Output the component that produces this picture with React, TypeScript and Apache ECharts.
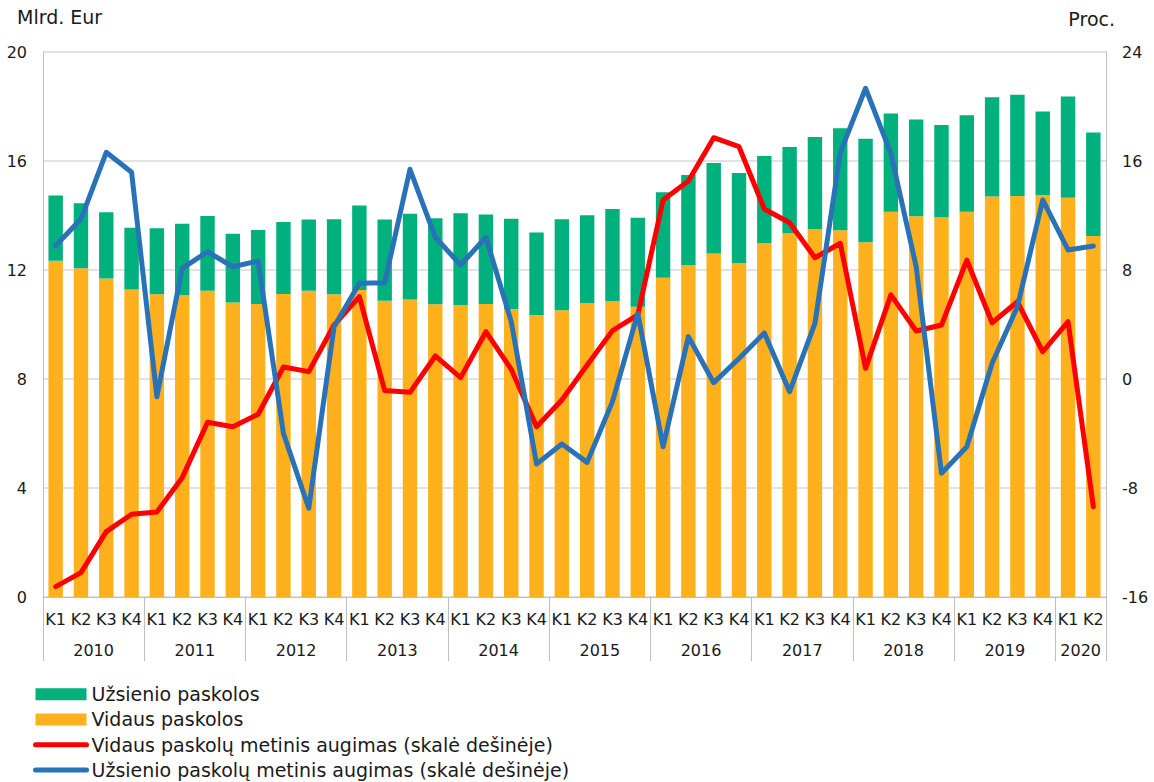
import React, { useEffect, useRef } from "react";
import * as echarts from "echarts";

const years = ["2010", "2011", "2012", "2013", "2014", "2015", "2016", "2017", "2018", "2019", "2020"];
const quarterNames = ["K1", "K2", "K3", "K4"];
const quartersPerYear = [4, 4, 4, 4, 4, 4, 4, 4, 4, 4, 2];

const domesticLoans = [
  12.34, 12.06, 11.69, 11.28, 11.11, 11.08, 11.24, 10.81, 10.75, 11.12, 11.24, 11.11,
  11.27, 10.87, 10.92, 10.74, 10.72, 10.75, 10.57, 10.35, 10.52, 10.79, 10.86, 10.65,
  11.72, 12.17, 12.61, 12.26, 12.98, 13.35, 13.5, 13.46, 13.02, 14.14, 13.97, 13.94,
  14.14, 14.7, 14.72, 14.75, 14.65, 13.25,
];
const foreignLoans = [
  2.39, 2.39, 2.43, 2.27, 2.42, 2.62, 2.74, 2.52, 2.72, 2.64, 2.61, 2.75,
  3.1, 2.98, 3.14, 3.16, 3.36, 3.29, 3.31, 3.03, 3.34, 3.22, 3.38, 3.27,
  3.13, 3.32, 3.32, 3.3, 3.2, 3.16, 3.38, 3.74, 3.8, 3.6, 3.55, 3.38,
  3.54, 3.64, 3.71, 3.07, 3.72, 3.8,
];
const domesticGrowth = [
  -15.24, -14.21, -11.2, -9.93, -9.76, -7.24, -3.18, -3.5, -2.59, 0.88, 0.54, 3.96,
  6.04, -0.85, -0.98, 1.69, 0.1, 3.47, 0.71, -3.5, -1.54, 1.03, 3.55, 4.7,
  13.14, 14.53, 17.71, 17.05, 12.48, 11.47, 8.9, 9.96, 0.78, 6.17, 3.52, 3.96,
  8.73, 4.13, 5.67, 2.0, 4.21, -9.37,
];
const foreignGrowth = [
  9.78, 11.74, 16.64, 15.17, -1.3, 8.12, 9.34, 8.24, 8.66, -3.99, -9.49, 3.84,
  7.02, 7.07, 15.39, 10.4, 8.37, 10.4, 4.21, -6.24, -4.77, -6.12, -1.66, 4.82,
  -4.97, 3.11, -0.27, 1.5, 3.38, -0.93, 4.09, 16.61, 21.34, 16.56, 8.24, -6.92,
  -4.97, 1.15, 5.31, 13.14, 9.47, 9.76,
];

const seriesNames = {
  foreign: "Užsienio paskolos",
  domestic: "Vidaus paskolos",
  domesticGrowth: "Vidaus paskolų metinis augimas (skalė dešinėje)",
  foreignGrowth: "Užsienio paskolų metinis augimas (skalė dešinėje)",
};

const colors = {
  foreign: "#00B17E",
  domestic: "#FFB01D",
  domesticGrowth: "#FF0000",
  foreignGrowth: "#2A72B8",
};

const FONT = 'Verdana, "DejaVu Sans", sans-serif';
const TEXT = "#1a1a1a";
const AXIS = "#bfbfbf";
const GRID = "#d9d9d9";

export default function App() {
  const ref = useRef<HTMLDivElement>(null);

  useEffect(() => {
    if (!ref.current) return;
    const chart = echarts.init(ref.current, null, { renderer: "svg" });

    const quarterLabels: string[] = [];
    const yearLabels: string[] = [];
    years.forEach((y, yi) => {
      const n = quartersPerYear[yi];
      const labelIdx = n === 4 ? 1 : 0;
      for (let q = 0; q < n; q++) {
        quarterLabels.push(quarterNames[q]);
        yearLabels.push(q === labelIdx ? y : "");
      }
    });
    const total = quarterLabels.length;
    const gridLeft = 43;
    const gridRight = 48;
    const bandW = (1154 - gridLeft - gridRight) / total;

    const lineLegend = (name: string, color: string) => ({
      name,
      itemStyle: { opacity: 0 },
      lineStyle: { color, width: 5, cap: "round" },
    });

    chart.setOption({
      animation: false,
      textStyle: { fontFamily: FONT },
      grid: { left: gridLeft, right: gridRight, top: 52, bottom: 185, containLabel: false },
      legend: {
        orient: "vertical",
        left: 33,
        top: 684.5,
        padding: 0,
        itemWidth: 51,
        itemHeight: 12,
        itemGap: 6,
        textStyle: { fontFamily: FONT, fontSize: 19, color: TEXT, lineHeight: 19.3 },
        data: [
          { name: seriesNames.foreign, icon: "rect" },
          { name: seriesNames.domestic, icon: "rect" },
          lineLegend(seriesNames.domesticGrowth, colors.domesticGrowth),
          lineLegend(seriesNames.foreignGrowth, colors.foreignGrowth),
        ],
      },
      graphic: [
        {
          type: "text",
          left: 17,
          top: 7,
          style: { text: "Mlrd. Eur", font: `19px ${FONT}`, fill: TEXT },
        },
        {
          type: "text",
          right: 39,
          top: 9,
          style: { text: "Proc.", font: `19px ${FONT}`, fill: TEXT },
        },
      ],
      xAxis: [
        {
          type: "category",
          data: quarterLabels,
          position: "bottom",
          axisLine: { show: true, lineStyle: { color: AXIS, width: 1 } },
          axisTick: { show: false },
          axisLabel: { interval: 0, margin: 14, fontSize: 16, color: TEXT, fontFamily: FONT },
          splitLine: { show: false },
        },
        {
          type: "category",
          data: yearLabels,
          position: "bottom",
          axisLine: { show: false },
          axisTick: { show: false },
          axisLabel: {
            interval: (_i: number, v: string) => v !== "",
            margin: 45,
            fontSize: 16,
            color: TEXT,
            fontFamily: FONT,
            padding: [0, 0, 0, bandW],
          },
          splitLine: { show: false },
        },
        {
          type: "value",
          min: 0,
          max: total,
          interval: 4,
          position: "bottom",
          axisLine: { show: false },
          axisTick: { show: true, length: 64, lineStyle: { color: AXIS, width: 1 } },
          axisLabel: { show: false },
          splitLine: { show: false },
        },
      ],
      yAxis: [
        {
          type: "value",
          min: 0,
          max: 20,
          interval: 4,
          axisLine: { show: true, lineStyle: { color: AXIS, width: 1 } },
          axisTick: { show: false },
          axisLabel: { margin: 16, fontSize: 16, color: TEXT, fontFamily: FONT },
          splitLine: { show: true, lineStyle: { color: GRID, width: 1.5 } },
        },
        {
          type: "value",
          min: -16,
          max: 24,
          interval: 8,
          position: "right",
          axisLine: { show: true, lineStyle: { color: AXIS, width: 1 } },
          axisTick: { show: false },
          axisLabel: { margin: 16, fontSize: 16, color: TEXT, fontFamily: FONT },
          splitLine: { show: false },
        },
      ],
      series: [
        {
          name: seriesNames.domestic,
          type: "bar",
          stack: "loans",
          xAxisIndex: 0,
          yAxisIndex: 0,
          barWidth: "57%",
          itemStyle: { color: colors.domestic },
          data: domesticLoans,
        },
        {
          name: seriesNames.foreign,
          type: "bar",
          stack: "loans",
          xAxisIndex: 0,
          yAxisIndex: 0,
          barWidth: "57%",
          itemStyle: { color: colors.foreign },
          data: foreignLoans,
        },
        {
          name: seriesNames.domesticGrowth,
          type: "line",
          xAxisIndex: 0,
          yAxisIndex: 1,
          symbol: "none",
          showSymbol: false,
          lineStyle: { color: colors.domesticGrowth, width: 5, cap: "round", join: "round" },
          itemStyle: { color: colors.domesticGrowth },
          data: domesticGrowth,
        },
        {
          name: seriesNames.foreignGrowth,
          type: "line",
          xAxisIndex: 0,
          yAxisIndex: 1,
          symbol: "none",
          showSymbol: false,
          lineStyle: { color: colors.foreignGrowth, width: 5, cap: "round", join: "round" },
          itemStyle: { color: colors.foreignGrowth },
          data: foreignGrowth,
        },
      ],
    });

    return () => chart.dispose();
  }, []);

  return <div ref={ref} style={{ width: 1154, height: 782, position: "absolute", left: 0, top: 0 }} />;
}
